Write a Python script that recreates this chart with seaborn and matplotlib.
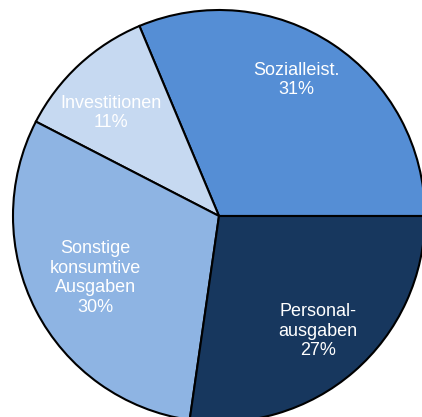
import numpy as np
import seaborn as sns
import matplotlib.pyplot as plt

labels = ["Sozialleist.\n31%", "Investitionen\n11%", "Sonstige\nkonsumtive\nAusgaben\n30%", "Personal-\nausgaben\n27%"]
shares = [31, 11, 30, 27]
colors = ["#558ED5", "#C6D9F1", "#8EB4E3", "#17375E"]

# label placement: radial distance and angular nudge (degrees) from wedge middle
label_dist = [0.76, 0.725, 0.67, 0.737]
label_nudge = [4.0, 3.7, -0.6, -0.2]

sns.set_style("white")
plt.rcParams["font.family"] = ["Liberation Sans", "DejaVu Sans"]

fig = plt.figure(figsize=(4.22, 4.17), dpi=100)
ax = fig.add_axes([0, 0, 1, 1])
wedges, texts = ax.pie(shares, labels=labels, colors=colors, startangle=0, counterclock=True,
                       labeldistance=0.72, radius=1.0,
                       wedgeprops={"edgecolor": "black", "linewidth": 1.5},
                       textprops={"color": "white", "fontsize": 13, "linespacing": 1.2})
for w, t, d, n in zip(wedges, texts, label_dist, label_nudge):
    a = np.deg2rad((w.theta1 + w.theta2) / 2 + n)
    t.set_position((d * np.cos(a), d * np.sin(a)))
    t.set_ha("center")
    t.set_va("center")

ax.set_xlim(-219 / 206, (422 - 219) / 206)
ax.set_ylim(-201 / 206, 216 / 206)
ax.set_aspect("auto")
ax.axis("off")

plt.savefig("out.png", dpi=100)
